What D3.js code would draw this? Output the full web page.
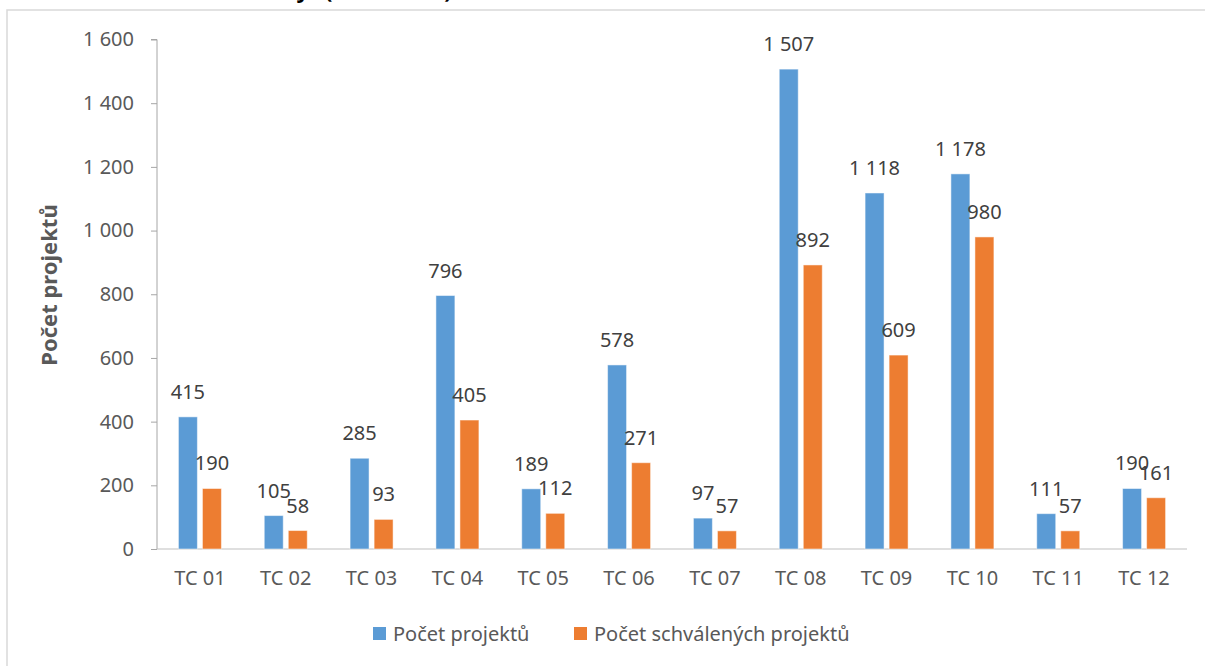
<!DOCTYPE html>
<html><head><meta charset="utf-8">
<script src="https://cdn.jsdelivr.net/npm/d3@7"></script>
<style>
html,body{margin:0;padding:0;background:#fff;}
svg{display:block;font-family:"Noto Sans","Open Sans",sans-serif;}
</style></head>
<body><svg id="c" width="1205" height="666"></svg>
<script>
const categories = ["TC 01","TC 02","TC 03","TC 04","TC 05","TC 06","TC 07","TC 08","TC 09","TC 10","TC 11","TC 12"];
const projects = [415,105,285,796,189,578,97,1507,1118,1178,111,190];
const approved = [190,58,93,405,112,271,57,892,609,980,57,161];
const seriesNames = ["Počet projektů","Počet schválených projektů"];
const yTicks = [0,200,400,600,800,1000,1200,1400,1600];
const colors = ["#5B9BD5","#ED7D31"];

(function(){
const svg = d3.select("#c");
const fmt = v => d3.format(",")(v).replace(/,/g," ");

// chart border (partially off-canvas)
svg.append("rect").attr("x",7).attr("y",10).attr("width",1300).attr("height",700)
  .attr("fill","none").attr("stroke","#d9d9d9").attr("stroke-width",1.5);

// clipped title (only lower part visible)
svg.append("text").attr("x",309).attr("y",-2).attr("text-anchor","end")
  .attr("font-size",22).attr("font-weight","bold").attr("fill","#000").text("Tematické oblasti a stav za roky");
svg.append("text").attr("x",325).attr("y",-2)
  .attr("font-size",22).attr("font-weight","bold").attr("fill","#000").text("(2014–2020)");

const pL=157, pR=1187, pT=39.5, pB=549;
const x = d3.scaleBand().domain(categories).range([pL,pR]);
const y = d3.scaleLinear().domain([0,1600]).range([pB,pT]);

// y axis
const ya = svg.append("g").attr("transform",`translate(${pL},0)`)
  .call(d3.axisLeft(y).tickValues(yTicks).tickFormat(fmt).tickSize(6).tickPadding(17));
ya.select(".domain").attr("stroke","#a6a6a6").attr("d",`M-6,${pT}H0V${pB}`);
ya.selectAll(".tick line").attr("stroke","#a6a6a6");
ya.selectAll(".tick text").attr("font-size",20).attr("fill","#595959").attr("font-family","Noto Sans");

// x axis
const xa = svg.append("g").attr("transform",`translate(0,${pB})`)
  .call(d3.axisBottom(x).tickSize(0).tickPadding(22));
xa.select(".domain").attr("stroke","#bfbfbf").attr("d",`M${pL},0H${pR}`);
xa.selectAll(".tick text").attr("font-size",20).attr("fill","#595959").attr("font-family","Noto Sans");

// axis title
svg.append("text").attr("transform","translate(57,285) rotate(-90)").attr("text-anchor","middle")
  .attr("font-size",22).attr("font-weight","bold").attr("fill","#595959").text("Počet projektů");

const xs = d3.scaleBand().domain([0,1]).range([-21.5,21.5]).paddingInner(0.21);
const data = [projects, approved];
data.forEach((arr,si)=>{
  const g = svg.append("g");
  g.selectAll("rect").data(arr).join("rect")
    .attr("x",(d,i)=>x(categories[i])+x.bandwidth()/2+xs(si))
    .attr("width",xs.bandwidth())
    .attr("y",d=>y(d)).attr("height",d=>pB-y(d))
    .attr("fill",colors[si]).attr("stroke","#fff").attr("stroke-opacity",0.5).attr("stroke-width",1);
  g.selectAll("text").data(arr).join("text")
    .attr("x",(d,i)=>x(categories[i])+x.bandwidth()/2+xs(si)+xs.bandwidth()/2)
    .attr("y",d=>y(d)-18).attr("text-anchor","middle")
    .attr("font-size",20).attr("fill","#404040").text(fmt);
});

// legend
const lg = svg.append("g");
const litems = [{x:373,name:seriesNames[0],c:colors[0]},{x:574,name:seriesNames[1],c:colors[1]}];
litems.forEach(it=>{
  lg.append("rect").attr("x",it.x).attr("y",627).attr("width",13).attr("height",13).attr("fill",it.c);
  lg.append("text").attr("x",it.x+20).attr("y",641).attr("font-size",20).attr("fill","#595959").text(it.name);
});
})();
</script></body></html>
